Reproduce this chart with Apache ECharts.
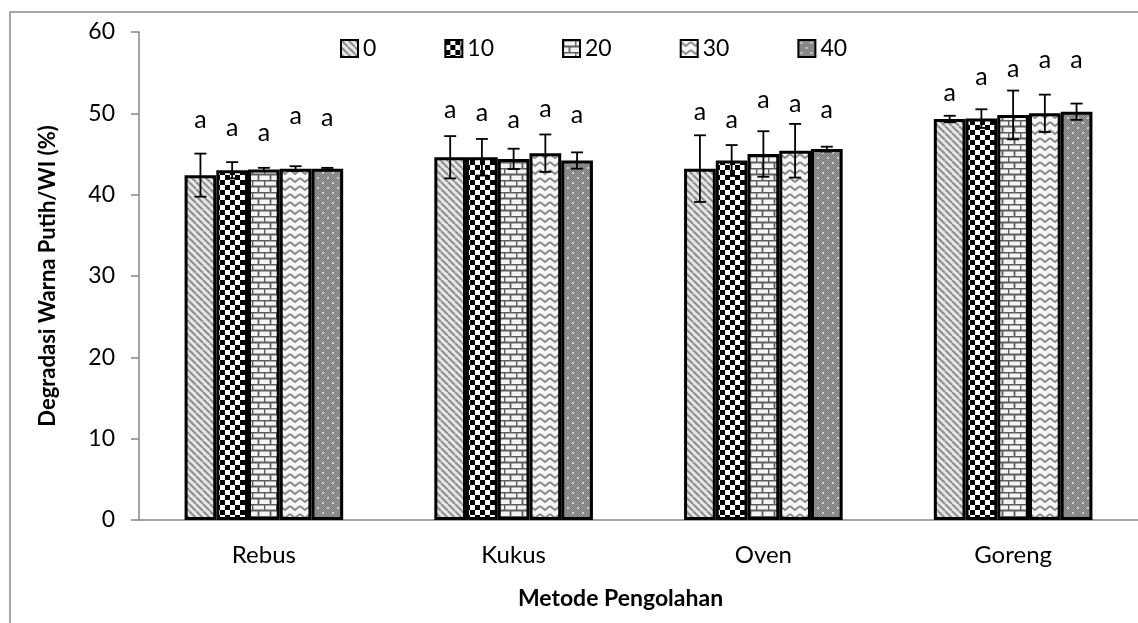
<!DOCTYPE html>
<html>
<head>
<meta charset="utf-8">
<script src="https://cdn.jsdelivr.net/npm/echarts@6/dist/echarts.min.js"></script>
<style>
  html, body { margin: 0; padding: 0; background: #fff; }
  #chart { width: 1138px; height: 623px; }
</style>
</head>
<body>
<div id="chart"></div>
<script>
// data
var categories = ['Rebus', 'Kukus', 'Oven', 'Goreng'];
var seriesNames = ['0', '10', '20', '30', '40'];

// mean values, one array per series (order = categories)
var mean0 = [42.4, 44.6, 43.2, 49.3];
var mean10 = [43.0, 44.6, 44.2, 49.35];
var mean20 = [43.1, 44.4, 45.0, 49.8];
var mean30 = [43.2, 45.1, 45.4, 50.0];
var mean40 = [43.2, 44.2, 45.6, 50.2];

// +/- error
var err0 = [2.65, 2.6, 4.1, 0.4];
var err10 = [1.0, 2.25, 1.9, 1.15];
var err20 = [0.2, 1.25, 2.8, 3.0];
var err30 = [0.3, 2.3, 3.3, 2.3];
var err40 = [0.1, 1.0, 0.3, 1.0];

// where the significance letter sits (y value)
var letterY0 = [49.2, 50.4, 50.2, 52.5];
var letterY10 = [48.2, 50.0, 49.2, 54.5];
var letterY20 = [47.6, 49.2, 51.7, 55.5];
var letterY30 = [49.7, 50.6, 51.2, 56.6];
var letterY40 = [49.4, 49.8, 50.4, 56.6];
var letter = 'a';

var means = [mean0, mean10, mean20, mean30, mean40];
var errs = [err0, err10, err20, err30, err40];
var letterYs = [letterY0, letterY10, letterY20, letterY30, letterY40];

var BAR_FRAC = 0.127;
var FONT = 'Lato';

// ---- fill patterns (excel style hatches) ----
function tile(w, h, draw) {
  var c = document.createElement('canvas');
  c.width = w; c.height = h;
  draw(c.getContext('2d'), w, h);
  return { image: c, repeat: 'repeat' };
}

var patterns = [
  // 0 : diagonal stripes
  tile(7, 7, function (g, w, h) {
    g.fillStyle = '#e6e6e6'; g.fillRect(0, 0, w, h);
    g.strokeStyle = '#8e8e8e'; g.lineWidth = 2;
    g.beginPath();
    for (var k = -7; k <= 7; k += 7) { g.moveTo(k, 0); g.lineTo(k + 7, 7); }
    g.stroke();
  }),
  // 10 : checker
  tile(10, 10, function (g, w, h) {
    g.fillStyle = '#fff'; g.fillRect(0, 0, w, h);
    g.fillStyle = '#000';
    g.fillRect(0, 0, 5, 5); g.fillRect(5, 5, 5, 5);
  }),
  // 20 : bricks
  tile(12, 12, function (g, w, h) {
    g.fillStyle = '#f4f4f4'; g.fillRect(0, 0, w, h);
    g.strokeStyle = '#5e5e5e'; g.lineWidth = 1.8;
    g.beginPath();
    g.moveTo(0, 0.5); g.lineTo(12, 0.5);
    g.moveTo(0, 6.5); g.lineTo(12, 6.5);
    g.moveTo(0.5, 0); g.lineTo(0.5, 6.5);
    g.moveTo(6.5, 6.5); g.lineTo(6.5, 12);
    g.stroke();
  }),
  // 30 : waves
  tile(10, 8, function (g, w, h) {
    g.fillStyle = '#f6f6f6'; g.fillRect(0, 0, w, h);
    g.strokeStyle = '#8a8a8a'; g.lineWidth = 2;
    g.beginPath();
    g.moveTo(0, 2); g.lineTo(5, 6); g.lineTo(10, 2);
    g.stroke();
  }),
  // 40 : grey speckle
  tile(10, 10, function (g, w, h) {
    g.fillStyle = '#7c7c7c'; g.fillRect(0, 0, w, h);
    g.fillStyle = '#969696';
    for (var y = 0; y < h; y++) {
      for (var x = (y % 2); x < w; x += 2) g.fillRect(x, y, 1, 1);
    }
    g.fillStyle = '#cfcfcf';
    g.fillRect(2, 2, 2, 2); g.fillRect(7, 7, 2, 2);
  })
];

// error bar + letter for one series
function markItem(s) {
  return function (params, api) {
    var cat = api.value(0), v = api.value(1), e = api.value(2), ly = api.value(3);
    var band = api.size([1, 0])[0];
    var off = (s - 2) * band * BAR_FRAC;
    var top = api.coord([cat, v + e]);
    var bot = api.coord([cat, v - e]);
    var lp = api.coord([cat, ly]);
    var x = top[0] + off;
    var cap = 6;
    var ls = { stroke: '#000', lineWidth: 1.8 };
    return {
      type: 'group',
      children: [
        { type: 'line', shape: { x1: x, y1: top[1], x2: x, y2: bot[1] }, style: ls },
        { type: 'line', shape: { x1: x - cap, y1: top[1], x2: x + cap, y2: top[1] }, style: ls },
        { type: 'line', shape: { x1: x - cap, y1: bot[1], x2: x + cap, y2: bot[1] }, style: ls },
        {
          type: 'text', x: x, y: lp[1],
          style: {
            text: letter, fontSize: 25, fontFamily: FONT, fill: '#000',
            align: 'center', verticalAlign: 'middle'
          }
        }
      ]
    };
  };
}

var series = [];
seriesNames.forEach(function (name, s) {
  series.push({
    name: name,
    type: 'bar',
    barWidth: (BAR_FRAC * 100) + '%',
    barGap: '0%',
    data: means[s],
    itemStyle: { color: patterns[s], borderColor: '#000', borderWidth: 3 },
    emphasis: { disabled: true },
    z: 2
  });
});
seriesNames.forEach(function (name, s) {
  series.push({
    type: 'custom',
    renderItem: markItem(s),
    data: categories.map(function (c, i) { return [i, means[s][i], errs[s][i], letterYs[s][i]]; }),
    z: 5,
    silent: true
  });
});

var chart = echarts.init(document.getElementById('chart'), null, { renderer: 'canvas' });
chart.setOption({
  animation: false,
  backgroundColor: '#fff',
  textStyle: { fontFamily: FONT },
  graphic: [{
    type: 'rect',
    shape: { x: 10, y: 12, width: 1140, height: 620 },
    style: { fill: 'none', stroke: '#8a8a8a', lineWidth: 1.5 },
    silent: true
  }],
  legend: {
    data: seriesNames,
    left: 335,
    top: 32,
    itemWidth: 17,
    itemHeight: 17,
    itemGap: 68,
    icon: 'rect',
    itemStyle: { borderColor: '#000', borderWidth: 2 },
    textStyle: { fontSize: 23, color: '#000', fontFamily: FONT }
  },
  grid: { left: 139, top: 32, width: 1012, height: 488 },
  xAxis: {
    type: 'category',
    data: categories,
    name: 'Metode Pengolahan',
    nameLocation: 'middle',
    nameGap: 67,
    nameTextStyle: { fontSize: 23, fontWeight: 'bold', color: '#000', padding: [0, 36, 0, 0] },
    axisLine: { lineStyle: { color: '#868686', width: 1.5 } },
    axisTick: { show: false },
    axisLabel: { fontSize: 24, color: '#000', margin: 23 }
  },
  yAxis: {
    type: 'value',
    min: 0, max: 60, interval: 10,
    name: 'Degradasi Warna Putih/WI (%)',
    nameLocation: 'middle',
    nameGap: 80,
    nameTextStyle: { fontSize: 22, fontWeight: 'bold', color: '#000' },
    axisLine: { show: true, lineStyle: { color: '#868686', width: 1.5 } },
    axisTick: { show: true, length: 8, lineStyle: { color: '#868686', width: 1.5 } },
    axisLabel: { fontSize: 23, color: '#000', margin: 24 },
    splitLine: { show: false }
  },
  series: series
});
</script>
</body>
</html>
